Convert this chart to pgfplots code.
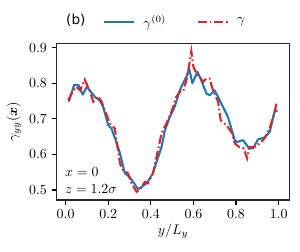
\documentclass[border=0pt]{standalone}
\usepackage{amsmath}
\usepackage{fontspec}
\newfontfamily\dejavu{DejaVu Sans}
\usepackage{pgfplots}
\pgfplotsset{compat=1.18}
\definecolor{tabblue}{HTML}{1F77B4}
\definecolor{tabred}{HTML}{D62728}
\begin{document}
\begin{tikzpicture}[font=\fontsize{9.8}{11.5}\selectfont]
\begin{axis}[
  scale only axis,
  width=167.5pt, height=112.8pt,
  xmin=-0.042, xmax=1.05,
  ymin=0.472, ymax=0.912,
  xtick={0,0.2,0.4,0.6,0.8,1.0},
  ytick={0.5,0.6,0.7,0.8,0.9},
  xticklabel style={/pgf/number format/.cd,fixed,fixed zerofill,precision=1},
  yticklabel style={/pgf/number format/.cd,fixed,fixed zerofill,precision=1},
  tick align=outside,
  xtick pos=lower, ytick pos=left,
  major tick length=3.5pt,
  tick style={black, line width=0.8pt},
  axis line style={line width=0.8pt, black!85},
  xlabel={$y/L_y$},
  ylabel={$\gamma_{yy}(\boldsymbol{x})$},
  xlabel style={yshift=3pt},
  ylabel style={yshift=-1pt},
  clip=false,
  legend columns=2,
  legend style={draw=none, fill=none, at={(rel axis cs:0.18,1.136)}, anchor=west,
    /tikz/every odd column/.append style={column sep=4pt},
    /tikz/every even column/.append style={column sep=20pt},
    font=\fontsize{9.8}{11.5}\selectfont},
  legend image code/.code={\draw[#1] (0pt,0pt) -- (21.6pt,0pt);},
]
\addplot[tabblue, line width=1.5pt, line join=round] coordinates {
(0.015,0.748) (0.04,0.795) (0.06,0.795) (0.08,0.768) (0.10,0.790) (0.12,0.775)
(0.14,0.760) (0.16,0.752) (0.176,0.734) (0.20,0.682) (0.215,0.673) (0.235,0.640)
(0.255,0.603) (0.278,0.547) (0.30,0.537) (0.32,0.520) (0.34,0.502) (0.36,0.510)
(0.38,0.519) (0.41,0.547) (0.43,0.585) (0.45,0.620) (0.466,0.668) (0.489,0.705)
(0.512,0.734) (0.536,0.780) (0.551,0.800) (0.567,0.818) (0.58,0.841) (0.595,0.800)
(0.619,0.832) (0.637,0.808) (0.661,0.771) (0.676,0.766) (0.70,0.780) (0.731,0.743)
(0.762,0.705) (0.794,0.640) (0.805,0.635) (0.833,0.640) (0.861,0.617) (0.88,0.617)
(0.903,0.642) (0.934,0.648) (0.958,0.663) (0.981,0.720) (0.995,0.724)
};
\addlegendentry{$\gamma^{(0)}$}
\addplot[tabred, line width=1.5pt, dash pattern=on 6.5pt off 2pt on 1.2pt off 2pt] coordinates {
(0.012,0.752) (0.036,0.780) (0.05,0.790) (0.068,0.780) (0.09,0.810) (0.114,0.776)
(0.13,0.748) (0.153,0.763) (0.169,0.748) (0.184,0.724) (0.208,0.687) (0.231,0.673)
(0.255,0.575) (0.27,0.556) (0.293,0.547) (0.309,0.519) (0.333,0.495) (0.348,0.500)
(0.372,0.523) (0.387,0.519) (0.41,0.547) (0.427,0.593) (0.45,0.659) (0.473,0.687)
(0.497,0.720) (0.52,0.762) (0.536,0.776) (0.551,0.776) (0.567,0.808) (0.58,0.850)
(0.59,0.890) (0.60,0.846) (0.614,0.827) (0.63,0.818) (0.645,0.804) (0.661,0.813)
(0.676,0.813) (0.692,0.780) (0.716,0.748) (0.728,0.696) (0.755,0.682) (0.778,0.663)
(0.794,0.631) (0.814,0.621) (0.836,0.617) (0.852,0.589) (0.864,0.621) (0.887,0.621)
(0.911,0.631) (0.934,0.645) (0.958,0.673) (0.981,0.720) (0.992,0.748)
};
\addlegendentry{$\gamma$}
\node[anchor=south west, align=left, inner sep=0pt] at (rel axis cs:0.035,0.04)
  {$x=0$\\[1pt]$z=1.2\sigma$};
\node[anchor=west, inner sep=0pt] at (rel axis cs:0.04,1.15) {\dejavu (b)};
\end{axis}
\pgfresetboundingbox
\path[use as bounding box] (current axis.south west) ++(-40.8pt,-37.4pt) rectangle ++(216pt,181.4pt);
\end{tikzpicture}
\end{document}
